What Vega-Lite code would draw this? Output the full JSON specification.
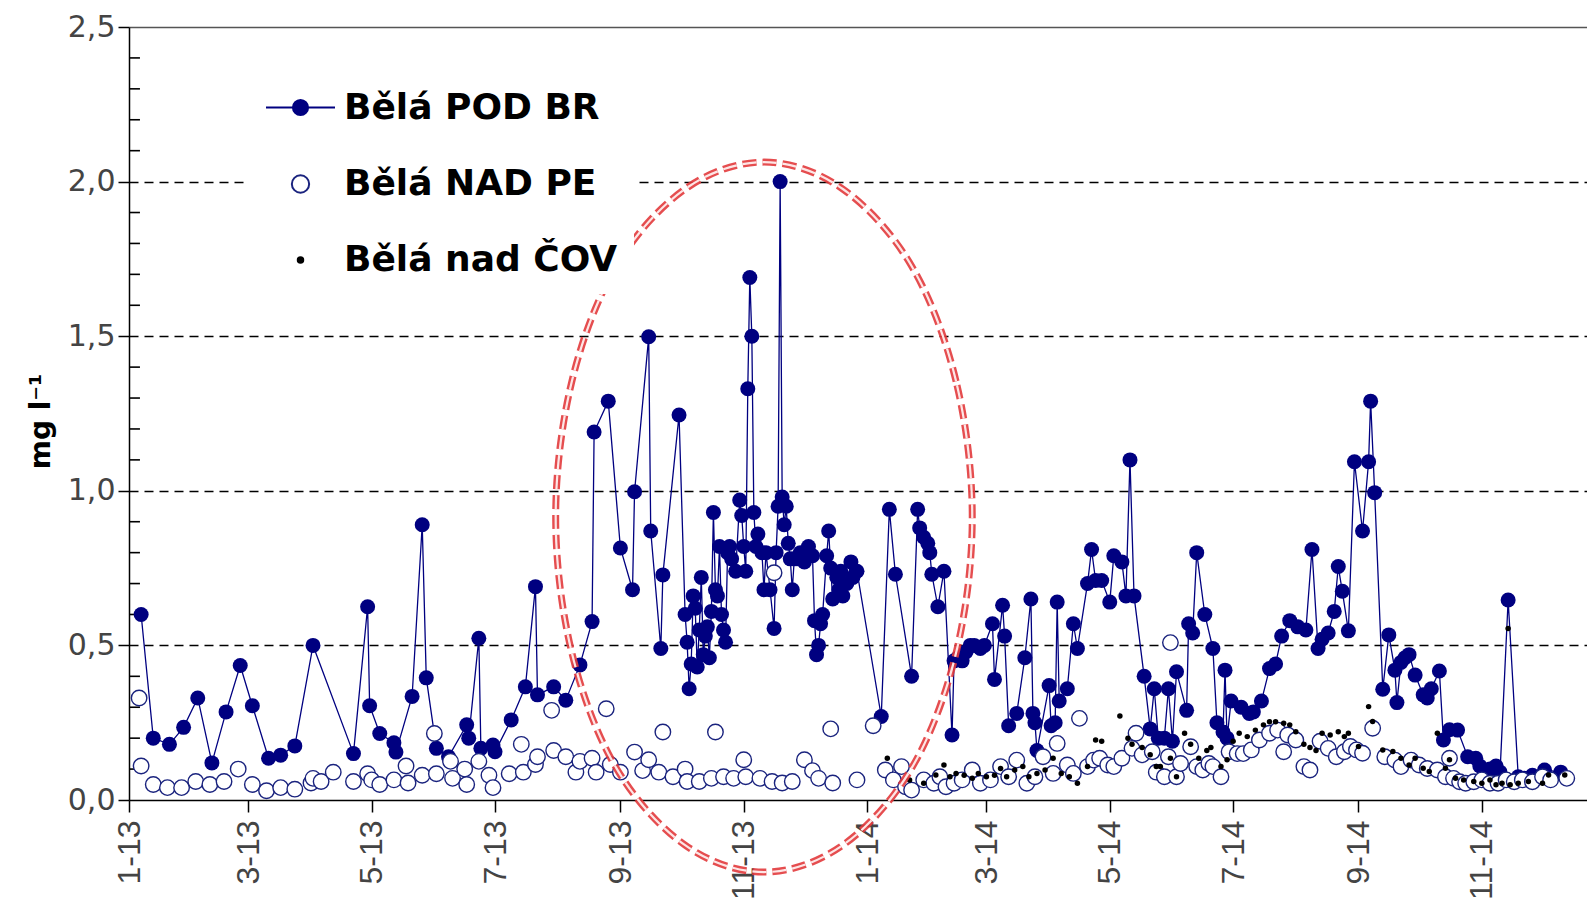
{
  "$schema": "https://vega.github.io/schema/vega-lite/v6.json",
  "width": 1458,
  "height": 773,
  "autosize": {"type": "none"},
  "padding": {"left": 129, "top": 27, "right": 0, "bottom": 113},
  "background": "white",
  "config": {"view": {"stroke": null},
    "axisX": {"title": null, "labelExpr": "utcFormat(datum.value, '%-m-%y')", "tickCount": {"interval": "month", "step": 2},
      "labelAngle": -90, "labelFont": "Liberation Sans", "labelFontSize": 32, "labelColor": "#444444",
      "labelPadding": 8, "labelFlush": false, "labelOverlap": false, "tickSize": 12, "tickColor": "black", "tickWidth": 1.5,
      "domainColor": "black", "domainWidth": 1.5, "grid": false}},
  "datasets": {
    "pod": [
      {"date":"2013-01-07","v":0.60},{"date":"2013-01-13","v":0.20},{"date":"2013-01-21","v":0.18},{"date":"2013-01-28","v":0.235},
      {"date":"2013-02-04","v":0.33},{"date":"2013-02-11","v":0.12},{"date":"2013-02-18","v":0.285},{"date":"2013-02-25","v":0.435},
      {"date":"2013-03-03","v":0.305},{"date":"2013-03-11","v":0.135},{"date":"2013-03-17","v":0.145},{"date":"2013-03-24","v":0.175},
      {"date":"2013-04-02","v":0.50},{"date":"2013-04-22","v":0.15},{"date":"2013-04-29","v":0.625},{"date":"2013-04-30","v":0.305},
      {"date":"2013-05-05","v":0.215},{"date":"2013-05-12","v":0.185},{"date":"2013-05-13","v":0.155},{"date":"2013-05-21","v":0.335},
      {"date":"2013-05-26","v":0.89},{"date":"2013-05-28","v":0.395},{"date":"2013-06-02","v":0.167},{"date":"2013-06-08","v":0.14},
      {"date":"2013-06-17","v":0.243},{"date":"2013-06-18","v":0.20},{"date":"2013-06-23","v":0.523},{"date":"2013-06-24","v":0.167},
      {"date":"2013-06-30","v":0.178},{"date":"2013-07-01","v":0.156},{"date":"2013-07-09","v":0.259},{"date":"2013-07-16","v":0.366},
      {"date":"2013-07-21","v":0.69},{"date":"2013-07-22","v":0.34},{"date":"2013-07-30","v":0.366},{"date":"2013-08-05","v":0.323},
      {"date":"2013-08-12","v":0.437},{"date":"2013-08-18","v":0.577},{"date":"2013-08-19","v":1.19},{"date":"2013-08-26","v":1.29},
      {"date":"2013-09-01","v":0.815},{"date":"2013-09-07","v":0.68},{"date":"2013-09-08","v":0.997},{"date":"2013-09-15","v":1.498},
      {"date":"2013-09-16","v":0.87},{"date":"2013-09-21","v":0.49},{"date":"2013-09-22","v":0.728},{"date":"2013-09-30","v":1.245},
      {"date":"2013-10-03","v":0.60},{"date":"2013-10-04","v":0.51},{"date":"2013-10-05","v":0.36},{"date":"2013-10-06","v":0.44},
      {"date":"2013-10-07","v":0.66},{"date":"2013-10-08","v":0.62},{"date":"2013-10-09","v":0.43},{"date":"2013-10-10","v":0.55},
      {"date":"2013-10-11","v":0.72},{"date":"2013-10-12","v":0.47},{"date":"2013-10-13","v":0.53},{"date":"2013-10-14","v":0.56},
      {"date":"2013-10-15","v":0.46},{"date":"2013-10-16","v":0.61},{"date":"2013-10-17","v":0.93},{"date":"2013-10-18","v":0.68},
      {"date":"2013-10-19","v":0.66},{"date":"2013-10-20","v":0.82},{"date":"2013-10-21","v":0.60},{"date":"2013-10-22","v":0.55},
      {"date":"2013-10-23","v":0.51},{"date":"2013-10-24","v":0.80},{"date":"2013-10-25","v":0.82},{"date":"2013-10-26","v":0.78},
      {"date":"2013-10-28","v":0.74},{"date":"2013-10-30","v":0.97},{"date":"2013-10-31","v":0.92},{"date":"2013-11-01","v":0.82},
      {"date":"2013-11-02","v":0.74},{"date":"2013-11-03","v":1.33},{"date":"2013-11-04","v":1.69},{"date":"2013-11-05","v":1.50},
      {"date":"2013-11-06","v":0.93},{"date":"2013-11-07","v":0.82},{"date":"2013-11-08","v":0.86},{"date":"2013-11-10","v":0.80},
      {"date":"2013-11-11","v":0.68},{"date":"2013-11-12","v":0.80},{"date":"2013-11-14","v":0.68},{"date":"2013-11-16","v":0.555},
      {"date":"2013-11-17","v":0.80},{"date":"2013-11-18","v":0.95},{"date":"2013-11-19","v":2.00},{"date":"2013-11-20","v":0.98},
      {"date":"2013-11-21","v":0.89},{"date":"2013-11-22","v":0.95},{"date":"2013-11-23","v":0.83},{"date":"2013-11-24","v":0.78},
      {"date":"2013-11-25","v":0.68},{"date":"2013-11-26","v":0.78},{"date":"2013-11-28","v":0.78},{"date":"2013-11-29","v":0.80},
      {"date":"2013-12-01","v":0.77},{"date":"2013-12-03","v":0.82},{"date":"2013-12-05","v":0.79},{"date":"2013-12-06","v":0.58},
      {"date":"2013-12-07","v":0.47},{"date":"2013-12-08","v":0.50},{"date":"2013-12-09","v":0.57},{"date":"2013-12-10","v":0.60},
      {"date":"2013-12-12","v":0.79},{"date":"2013-12-13","v":0.87},{"date":"2013-12-14","v":0.75},{"date":"2013-12-15","v":0.65},
      {"date":"2013-12-17","v":0.72},{"date":"2013-12-18","v":0.68},{"date":"2013-12-19","v":0.74},{"date":"2013-12-20","v":0.66},
      {"date":"2013-12-22","v":0.70},{"date":"2013-12-24","v":0.77},{"date":"2013-12-25","v":0.72},{"date":"2013-12-27","v":0.74},
      {"date":"2014-01-08","v":0.27},{"date":"2014-01-12","v":0.94},{"date":"2014-01-15","v":0.73},{"date":"2014-01-23","v":0.40},
      {"date":"2014-01-26","v":0.94},{"date":"2014-01-27","v":0.88},{"date":"2014-01-29","v":0.85},{"date":"2014-01-31","v":0.83},
      {"date":"2014-02-01","v":0.80},{"date":"2014-02-02","v":0.73},{"date":"2014-02-05","v":0.625},{"date":"2014-02-08","v":0.74},
      {"date":"2014-02-12","v":0.21},{"date":"2014-02-13","v":0.45},{"date":"2014-02-15","v":0.46},{"date":"2014-02-17","v":0.45},
      {"date":"2014-02-19","v":0.48},{"date":"2014-02-21","v":0.50},{"date":"2014-02-23","v":0.50},{"date":"2014-02-26","v":0.49},
      {"date":"2014-02-28","v":0.50},{"date":"2014-03-04","v":0.57},{"date":"2014-03-05","v":0.39},{"date":"2014-03-09","v":0.63},
      {"date":"2014-03-10","v":0.53},{"date":"2014-03-12","v":0.24},{"date":"2014-03-16","v":0.28},{"date":"2014-03-20","v":0.46},
      {"date":"2014-03-23","v":0.65},{"date":"2014-03-24","v":0.28},{"date":"2014-03-25","v":0.25},{"date":"2014-03-26","v":0.16},
      {"date":"2014-04-01","v":0.37},{"date":"2014-04-02","v":0.24},{"date":"2014-04-04","v":0.25},{"date":"2014-04-05","v":0.64},
      {"date":"2014-04-06","v":0.32},{"date":"2014-04-10","v":0.36},{"date":"2014-04-13","v":0.57},{"date":"2014-04-15","v":0.49},
      {"date":"2014-04-20","v":0.70},{"date":"2014-04-22","v":0.81},{"date":"2014-04-24","v":0.71},{"date":"2014-04-27","v":0.71},
      {"date":"2014-05-01","v":0.64},{"date":"2014-05-03","v":0.79},{"date":"2014-05-07","v":0.77},{"date":"2014-05-09","v":0.66},
      {"date":"2014-05-11","v":1.10},{"date":"2014-05-13","v":0.66},{"date":"2014-05-18","v":0.40},{"date":"2014-05-21","v":0.23},
      {"date":"2014-05-23","v":0.36},{"date":"2014-05-25","v":0.20},{"date":"2014-05-28","v":0.20},{"date":"2014-05-30","v":0.36},
      {"date":"2014-06-01","v":0.19},{"date":"2014-06-03","v":0.415},{"date":"2014-06-08","v":0.29},{"date":"2014-06-09","v":0.57},
      {"date":"2014-06-11","v":0.54},{"date":"2014-06-13","v":0.80},{"date":"2014-06-17","v":0.60},{"date":"2014-06-21","v":0.49},
      {"date":"2014-06-23","v":0.25},{"date":"2014-06-26","v":0.22},{"date":"2014-06-27","v":0.42},{"date":"2014-06-28","v":0.20},
      {"date":"2014-06-30","v":0.32},{"date":"2014-07-05","v":0.30},{"date":"2014-07-09","v":0.28},{"date":"2014-07-11","v":0.285},
      {"date":"2014-07-15","v":0.32},{"date":"2014-07-19","v":0.425},{"date":"2014-07-22","v":0.44},{"date":"2014-07-25","v":0.53},
      {"date":"2014-07-29","v":0.58},{"date":"2014-08-02","v":0.56},{"date":"2014-08-06","v":0.55},{"date":"2014-08-09","v":0.81},
      {"date":"2014-08-12","v":0.49},{"date":"2014-08-14","v":0.52},{"date":"2014-08-17","v":0.54},{"date":"2014-08-20","v":0.61},
      {"date":"2014-08-22","v":0.755},{"date":"2014-08-24","v":0.675},{"date":"2014-08-27","v":0.547},{"date":"2014-08-30","v":1.094},
      {"date":"2014-09-03","v":0.87},{"date":"2014-09-06","v":1.094},{"date":"2014-09-07","v":1.29},{"date":"2014-09-09","v":0.994},
      {"date":"2014-09-13","v":0.358},{"date":"2014-09-16","v":0.534},{"date":"2014-09-19","v":0.42},{"date":"2014-09-20","v":0.315},
      {"date":"2014-09-22","v":0.445},{"date":"2014-09-24","v":0.46},{"date":"2014-09-26","v":0.47},{"date":"2014-09-29","v":0.404},
      {"date":"2014-10-03","v":0.34},{"date":"2014-10-05","v":0.33},{"date":"2014-10-07","v":0.36},{"date":"2014-10-11","v":0.417},
      {"date":"2014-10-13","v":0.194},{"date":"2014-10-16","v":0.227},{"date":"2014-10-20","v":0.226},{"date":"2014-10-25","v":0.14},
      {"date":"2014-10-29","v":0.135},{"date":"2014-10-31","v":0.11},{"date":"2014-11-05","v":0.10},{"date":"2014-11-08","v":0.11},
      {"date":"2014-11-10","v":0.09},{"date":"2014-11-14","v":0.647},{"date":"2014-11-19","v":0.075},{"date":"2014-11-22","v":0.07},
      {"date":"2014-11-26","v":0.08},{"date":"2014-12-02","v":0.097},{"date":"2014-12-10","v":0.09}
    ],
    "pe": [
      {"date":"2013-01-06","v":0.33},{"date":"2013-01-07","v":0.11},{"date":"2013-01-13","v":0.05},{"date":"2013-01-20","v":0.04},
      {"date":"2013-01-27","v":0.04},{"date":"2013-02-03","v":0.06},{"date":"2013-02-10","v":0.05},{"date":"2013-02-17","v":0.06},
      {"date":"2013-02-24","v":0.10},{"date":"2013-03-03","v":0.05},{"date":"2013-03-10","v":0.03},{"date":"2013-03-17","v":0.04},
      {"date":"2013-03-24","v":0.035},{"date":"2013-04-01","v":0.055},{"date":"2013-04-02","v":0.07},{"date":"2013-04-06","v":0.06},
      {"date":"2013-04-12","v":0.09},{"date":"2013-04-22","v":0.06},{"date":"2013-04-29","v":0.085},{"date":"2013-05-01","v":0.065},
      {"date":"2013-05-05","v":0.05},{"date":"2013-05-12","v":0.065},{"date":"2013-05-18","v":0.11},{"date":"2013-05-19","v":0.055},
      {"date":"2013-05-26","v":0.08},{"date":"2013-06-01","v":0.215},{"date":"2013-06-02","v":0.085},{"date":"2013-06-09","v":0.125},
      {"date":"2013-06-10","v":0.07},{"date":"2013-06-16","v":0.10},{"date":"2013-06-17","v":0.05},{"date":"2013-06-23","v":0.125},
      {"date":"2013-06-28","v":0.08},{"date":"2013-06-30","v":0.04},{"date":"2013-07-08","v":0.085},{"date":"2013-07-14","v":0.18},
      {"date":"2013-07-15","v":0.09},{"date":"2013-07-21","v":0.115},{"date":"2013-07-22","v":0.14},{"date":"2013-07-29","v":0.29},
      {"date":"2013-07-30","v":0.16},{"date":"2013-08-05","v":0.14},{"date":"2013-08-10","v":0.09},{"date":"2013-08-12","v":0.125},
      {"date":"2013-08-18","v":0.135},{"date":"2013-08-20","v":0.09},{"date":"2013-08-25","v":0.295},{"date":"2013-08-27","v":0.115},
      {"date":"2013-09-01","v":0.09},{"date":"2013-09-08","v":0.155},{"date":"2013-09-12","v":0.095},{"date":"2013-09-15","v":0.13},
      {"date":"2013-09-20","v":0.09},{"date":"2013-09-22","v":0.22},{"date":"2013-09-27","v":0.075},{"date":"2013-10-03","v":0.10},
      {"date":"2013-10-04","v":0.06},{"date":"2013-10-10","v":0.06},{"date":"2013-10-16","v":0.07},{"date":"2013-10-18","v":0.22},
      {"date":"2013-10-22","v":0.075},{"date":"2013-10-27","v":0.07},{"date":"2013-11-01","v":0.13},{"date":"2013-11-02","v":0.075},
      {"date":"2013-11-09","v":0.07},{"date":"2013-11-15","v":0.06},{"date":"2013-11-16","v":0.735},{"date":"2013-11-20","v":0.055},
      {"date":"2013-11-25","v":0.06},{"date":"2013-12-01","v":0.13},{"date":"2013-12-05","v":0.095},{"date":"2013-12-08","v":0.07},
      {"date":"2013-12-14","v":0.23},{"date":"2013-12-15","v":0.055},{"date":"2013-12-27","v":0.065},{"date":"2014-01-04","v":0.24},
      {"date":"2014-01-10","v":0.097},{"date":"2014-01-14","v":0.065},{"date":"2014-01-18","v":0.108},{"date":"2014-01-20","v":0.043},
      {"date":"2014-01-23","v":0.032},{"date":"2014-01-29","v":0.065},{"date":"2014-02-03","v":0.054},{"date":"2014-02-06","v":0.075},
      {"date":"2014-02-09","v":0.043},{"date":"2014-02-13","v":0.054},{"date":"2014-02-17","v":0.065},{"date":"2014-02-22","v":0.097},
      {"date":"2014-02-26","v":0.054},{"date":"2014-03-03","v":0.065},{"date":"2014-03-08","v":0.108},{"date":"2014-03-12","v":0.075},
      {"date":"2014-03-16","v":0.129},{"date":"2014-03-21","v":0.054},{"date":"2014-03-25","v":0.075},{"date":"2014-03-29","v":0.14},
      {"date":"2014-04-03","v":0.086},{"date":"2014-04-05","v":0.183},{"date":"2014-04-10","v":0.113},{"date":"2014-04-13","v":0.086},
      {"date":"2014-04-16","v":0.264},{"date":"2014-04-20","v":0.108},{"date":"2014-04-23","v":0.129},{"date":"2014-04-26","v":0.135},
      {"date":"2014-04-30","v":0.113},{"date":"2014-05-03","v":0.108},{"date":"2014-05-07","v":0.135},{"date":"2014-05-12","v":0.167},
      {"date":"2014-05-14","v":0.216},{"date":"2014-05-17","v":0.146},{"date":"2014-05-22","v":0.156},{"date":"2014-05-24","v":0.09},
      {"date":"2014-05-28","v":0.075},{"date":"2014-05-30","v":0.14},{"date":"2014-05-31","v":0.509},{"date":"2014-06-03","v":0.075},
      {"date":"2014-06-05","v":0.118},{"date":"2014-06-10","v":0.172},{"date":"2014-06-13","v":0.108},{"date":"2014-06-16","v":0.097},
      {"date":"2014-06-19","v":0.118},{"date":"2014-06-21","v":0.108},{"date":"2014-06-25","v":0.075},{"date":"2014-06-29","v":0.156},
      {"date":"2014-07-03","v":0.15},{"date":"2014-07-06","v":0.15},{"date":"2014-07-10","v":0.162},{"date":"2014-07-14","v":0.194},
      {"date":"2014-07-19","v":0.216},{"date":"2014-07-23","v":0.226},{"date":"2014-07-26","v":0.156},{"date":"2014-07-28","v":0.21},
      {"date":"2014-08-01","v":0.194},{"date":"2014-08-05","v":0.108},{"date":"2014-08-08","v":0.097},{"date":"2014-08-13","v":0.19},
      {"date":"2014-08-17","v":0.167},{"date":"2014-08-21","v":0.14},{"date":"2014-08-25","v":0.156},{"date":"2014-08-28","v":0.173},
      {"date":"2014-08-31","v":0.162},{"date":"2014-09-03","v":0.151},{"date":"2014-09-08","v":0.232},{"date":"2014-09-14","v":0.14},
      {"date":"2014-09-19","v":0.129},{"date":"2014-09-22","v":0.108},{"date":"2014-09-27","v":0.129},{"date":"2014-10-01","v":0.113},
      {"date":"2014-10-05","v":0.102},{"date":"2014-10-10","v":0.097},{"date":"2014-10-14","v":0.075},{"date":"2014-10-16","v":0.135},
      {"date":"2014-10-18","v":0.07},{"date":"2014-10-21","v":0.059},{"date":"2014-10-24","v":0.054},{"date":"2014-10-28","v":0.059},
      {"date":"2014-11-01","v":0.065},{"date":"2014-11-05","v":0.054},{"date":"2014-11-09","v":0.054},{"date":"2014-11-13","v":0.065},
      {"date":"2014-11-17","v":0.059},{"date":"2014-11-21","v":0.065},{"date":"2014-11-26","v":0.059},{"date":"2014-12-01","v":0.075},
      {"date":"2014-12-05","v":0.065},{"date":"2014-12-13","v":0.07}
    ],
    "cov": [
      {"date":"2014-01-11","v":0.135},{"date":"2014-01-22","v":0.065},{"date":"2014-01-29","v":0.054},{"date":"2014-02-04","v":0.081},
      {"date":"2014-02-08","v":0.113},{"date":"2014-02-11","v":0.075},{"date":"2014-02-14","v":0.086},{"date":"2014-02-18","v":0.08},
      {"date":"2014-02-22","v":0.07},{"date":"2014-02-25","v":0.086},{"date":"2014-03-01","v":0.075},{"date":"2014-03-05","v":0.08},
      {"date":"2014-03-08","v":0.102},{"date":"2014-03-11","v":0.075},{"date":"2014-03-15","v":0.097},{"date":"2014-03-19","v":0.108},
      {"date":"2014-03-22","v":0.075},{"date":"2014-03-26","v":0.086},{"date":"2014-03-30","v":0.097},{"date":"2014-04-03","v":0.135},
      {"date":"2014-04-07","v":0.086},{"date":"2014-04-11","v":0.075},{"date":"2014-04-15","v":0.054},{"date":"2014-04-20","v":0.108},
      {"date":"2014-04-24","v":0.194},{"date":"2014-04-27","v":0.19},{"date":"2014-05-06","v":0.272},{"date":"2014-05-10","v":0.20},
      {"date":"2014-05-12","v":0.18},{"date":"2014-05-17","v":0.17},{"date":"2014-05-21","v":0.146},{"date":"2014-05-24","v":0.108},
      {"date":"2014-05-26","v":0.108},{"date":"2014-05-31","v":0.135},{"date":"2014-06-03","v":0.075},{"date":"2014-06-07","v":0.216},
      {"date":"2014-06-10","v":0.18},{"date":"2014-06-14","v":0.135},{"date":"2014-06-18","v":0.16},{"date":"2014-06-20","v":0.17},
      {"date":"2014-06-25","v":0.108},{"date":"2014-06-28","v":0.13},{"date":"2014-07-01","v":0.19},{"date":"2014-07-04","v":0.216},
      {"date":"2014-07-08","v":0.205},{"date":"2014-07-12","v":0.226},{"date":"2014-07-16","v":0.243},{"date":"2014-07-19","v":0.253},
      {"date":"2014-07-22","v":0.253},{"date":"2014-07-26","v":0.248},{"date":"2014-07-29","v":0.243},{"date":"2014-08-01","v":0.221},
      {"date":"2014-08-05","v":0.18},{"date":"2014-08-08","v":0.17},{"date":"2014-08-11","v":0.16},{"date":"2014-08-14","v":0.216},
      {"date":"2014-08-18","v":0.21},{"date":"2014-08-22","v":0.221},{"date":"2014-08-25","v":0.205},{"date":"2014-08-27","v":0.216},
      {"date":"2014-09-01","v":0.173},{"date":"2014-09-06","v":0.302},{"date":"2014-09-08","v":0.254},{"date":"2014-09-13","v":0.162},
      {"date":"2014-09-18","v":0.157},{"date":"2014-09-22","v":0.135},{"date":"2014-09-26","v":0.113},{"date":"2014-09-29","v":0.135},
      {"date":"2014-10-03","v":0.103},{"date":"2014-10-06","v":0.092},{"date":"2014-10-10","v":0.216},{"date":"2014-10-14","v":0.103},
      {"date":"2014-10-16","v":0.13},{"date":"2014-10-19","v":0.07},{"date":"2014-10-23","v":0.065},{"date":"2014-10-28","v":0.06},
      {"date":"2014-11-01","v":0.054},{"date":"2014-11-05","v":0.065},{"date":"2014-11-08","v":0.049},{"date":"2014-11-11","v":0.054},
      {"date":"2014-11-14","v":0.555},{"date":"2014-11-15","v":0.049},{"date":"2014-11-19","v":0.054},{"date":"2014-11-24","v":0.06},
      {"date":"2014-12-01","v":0.054},{"date":"2014-12-04","v":0.081},{"date":"2014-12-12","v":0.081}
    ],
    "ellipse": [
      {"i":0,"date":"2014-02-22","v":0.915},{"i":1,"date":"2014-02-14","v":1.354},{"i":2,"date":"2014-01-23","v":1.727},
      {"i":3,"date":"2013-12-20","v":1.976},{"i":4,"date":"2013-11-11","v":2.063},{"i":5,"date":"2013-10-03","v":1.976},
      {"i":6,"date":"2013-08-30","v":1.727},{"i":7,"date":"2013-08-08","v":1.354},{"i":8,"date":"2013-07-31","v":0.915},
      {"i":9,"date":"2013-08-08","v":0.476},{"i":10,"date":"2013-08-30","v":0.103},{"i":11,"date":"2013-10-03","v":-0.146},
      {"i":12,"date":"2013-11-11","v":-0.233},{"i":13,"date":"2013-12-20","v":-0.146},{"i":14,"date":"2014-01-23","v":0.103},
      {"i":15,"date":"2014-02-14","v":0.476}
    ],
    "minor": [
      {"v":0.1},{"v":0.2},{"v":0.3},{"v":0.4},{"v":0.6},{"v":0.7},{"v":0.8},{"v":0.9},{"v":1.1},{"v":1.2},
      {"v":1.3},{"v":1.4},{"v":1.6},{"v":1.7},{"v":1.8},{"v":1.9},{"v":2.1},{"v":2.2},{"v":2.3},{"v":2.4}
    ],
    "legend": [
      {"series":"Bělá POD BR"},{"series":"Bělá NAD PE"},{"series":"Bělá nad ČOV"}
    ]
  },
  "resolve": {"axis": {"y": "independent"}},
  "layer": [
    {
      "data": {"name": "pod"},
      "mark": {"type": "line", "color": "#000080", "strokeWidth": 1.3},
      "encoding": {
        "x": {"field": "date", "type": "temporal",
          "scale": {"type": "utc", "domain": [{"year": 2013, "month": 1, "date": 1, "utc": true}, {"year": 2014, "month": 12, "date": 23, "utc": true}]},
          "axis": {"labelExpr": "utcFormat(datum.value, '%-m-%y')", "labelFont": "Liberation Sans", "labelFontSize": 32, "labelAngle": -90, "labelColor": "#444444", "labelPadding": 8}},
        "y": {"field": "v", "type": "quantitative",
          "scale": {"domain": [0, 2.5], "nice": false, "zero": false},
          "axis": {"values": [0, 0.5, 1, 1.5, 2, 2.5],
            "labelExpr": "replace(format(datum.value, '.1f'), '.', ',')",
            "labelFont": "DejaVu Sans", "labelFontSize": 30, "labelColor": "#444444", "labelPadding": 3,
            "tickSize": 11, "tickColor": "black", "tickWidth": 1.5, "domainColor": "black", "domainWidth": 1.5,
            "grid": true, "gridWidth": 1.4,
            "gridColor": {"condition": {"test": "datum.value >= 2.5", "value": "#555555"}, "value": "black"},
            "gridDash": {"condition": {"test": "datum.value >= 2.5", "value": []}, "value": [9, 6]},
            "gridOpacity": {"condition": {"test": "datum.value <= 0", "value": 0}, "value": 1},
            "title": "mg l⁻¹", "titleFont": "DejaVu Sans", "titleFontSize": 28, "titleFontWeight": "bold", "titleColor": "black",
            "titleX": -88, "titleY": 394, "titleAngle": -90, "titleAlign": "center", "titleBaseline": "middle"}}
      }
    },
    {
      "data": {"name": "minor"},
      "mark": {"type": "rule", "color": "black", "strokeWidth": 1.6},
      "encoding": {
        "x": {"datum": {"year": 2013, "month": 1, "date": 1, "utc": true}, "type": "temporal"},
        "x2": {"datum": {"year": 2013, "month": 1, "date": 6, "hours": 10, "utc": true}},
        "y": {"field": "v", "type": "quantitative", "axis": null}
      }
    },
    {
      "data": {"name": "pod"},
      "mark": {"type": "point", "shape": "circle", "filled": true, "size": 225, "color": "#000080", "opacity": 1},
      "encoding": {
        "x": {"field": "date", "type": "temporal"},
        "y": {"field": "v", "type": "quantitative", "axis": null}
      }
    },
    {
      "data": {"name": "pe"},
      "mark": {"type": "point", "shape": "circle", "filled": true, "size": 240, "fill": "white", "stroke": "#1a237e", "strokeWidth": 1.4, "opacity": 1},
      "encoding": {
        "x": {"field": "date", "type": "temporal"},
        "y": {"field": "v", "type": "quantitative", "axis": null}
      }
    },
    {
      "data": {"name": "cov"},
      "mark": {"type": "point", "shape": "circle", "filled": true, "size": 30, "color": "black", "opacity": 1},
      "encoding": {
        "x": {"field": "date", "type": "temporal"},
        "y": {"field": "v", "type": "quantitative", "axis": null}
      }
    },
    {
      "data": {"name": "ellipse"},
      "mark": {"type": "line", "interpolate": "cardinal-closed", "stroke": "#e23a3c", "strokeWidth": 7, "strokeDash": [14, 6], "opacity": 0.9, "clip": false},
      "encoding": {
        "x": {"field": "date", "type": "temporal"},
        "y": {"field": "v", "type": "quantitative", "axis": null},
        "order": {"field": "i", "type": "quantitative"}
      }
    },
    {
      "data": {"name": "ellipse"},
      "mark": {"type": "line", "interpolate": "cardinal-closed", "stroke": "#fde6e6", "strokeWidth": 2.2, "strokeDash": [14, 6], "clip": false},
      "encoding": {
        "x": {"field": "date", "type": "temporal"},
        "y": {"field": "v", "type": "quantitative", "axis": null},
        "order": {"field": "i", "type": "quantitative"}
      }
    },
    {
      "data": {"name": "legend"},
      "transform": [{"filter": "false"}],
      "mark": {"type": "point", "filled": true, "strokeWidth": 2, "opacity": 1},
      "encoding": {
        "shape": {"field": "series", "type": "nominal",
          "scale": {"domain": ["Bělá POD BR", "Bělá NAD PE", "Bělá nad ČOV"],
            "range": ["M-1,0H1M0.22,0A0.22,0.22,0,1,1,-0.22,0A0.22,0.22,0,1,1,0.22,0Z", "circle", "circle"]},
          "legend": {"title": null, "orient": "none", "legendX": 120, "legendY": 29, "fillColor": "white", "padding": 16,
            "labelFont": "DejaVu Sans", "labelFontSize": 36, "labelFontWeight": "bold", "labelColor": "black",
            "labelOffset": 8, "rowPadding": 40, "symbolStrokeWidth": 2, "symbolOpacity": 1, "labelLimit": 0}},
        "fill": {"field": "series", "type": "nominal",
          "scale": {"domain": ["Bělá POD BR", "Bělá NAD PE", "Bělá nad ČOV"], "range": ["#000080", "#ffffff", "#000000"]}},
        "stroke": {"field": "series", "type": "nominal",
          "scale": {"domain": ["Bělá POD BR", "Bělá NAD PE", "Bělá nad ČOV"], "range": ["#000080", "#1a237e", "#000000"]}},
        "size": {"field": "series", "type": "nominal",
          "scale": {"type": "ordinal", "domain": ["Bělá POD BR", "Bělá NAD PE", "Bělá nad ČOV"], "range": [4761, 300, 30]}}
      }
    }
  ]
}
